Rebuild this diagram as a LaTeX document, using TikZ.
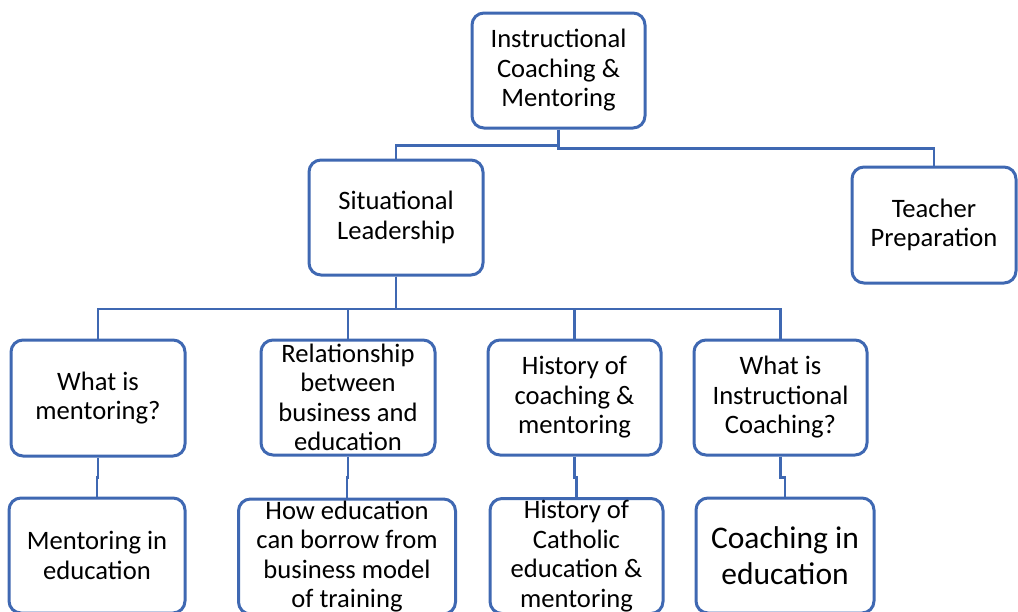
\documentclass[tikz,border=0pt]{standalone}
\usepackage{fontspec}
\setmainfont{Carlito}
\definecolor{bcol}{RGB}{63,104,178}
\begin{document}
\begin{tikzpicture}[x=1pt,y=-1pt,
  box/.style={draw=bcol,line width=3pt,rounded corners=12pt,fill=white,align=center,inner sep=0pt,
    font=\fontsize{26.6}{29.5}\selectfont,minimum height=115pt},
  conn/.style={draw=bcol,line width=2.2pt}]
\useasboundingbox (0,0) rectangle (1018,611);
% level 0
\node[box,minimum width=173pt] (top) at (558.5,70.5) {Instructional\\Coaching \&\\Mentoring};
% level 1
\node[box,minimum width=174pt] (sit) at (396,217.5) {Situational\\Leadership};
\node[box,minimum width=164pt,minimum height=116pt] (tp) at (934,225) {Teacher\\Preparation};
% level 2
\node[box,minimum width=174pt,minimum height=116pt] (m1) at (98,398) {What is\\mentoring?};
\node[box,minimum width=174pt] (r1) at (348,397.5) {Relationship\\between\\business and\\education};
\node[box,minimum width=173pt] (h1) at (574.5,397.5) {History of\\coaching \&\\mentoring};
\node[box,minimum width=173pt] (w1) at (780.5,397.5) {What is\\Instructional\\Coaching?};
% level 3
\node[box,minimum width=176pt] (m2) at (97,555.5) {Mentoring in\\education};
\node[box,minimum width=217pt] (b2) at (347,556.5) {How education\\can borrow from\\business model\\of training};
\node[box,minimum width=173pt] (c2) at (576.5,556) {History of\\Catholic\\education \&\\mentoring};
\node[box,minimum width=178pt,font=\fontsize{31.5}{36}\selectfont] (e2) at (785,555.5) {Coaching in\\education};
% connectors
\draw[conn] (top.south) -- ++(0,16) -| (sit.north);
\draw[conn] (top.south) -- ++(0,19) -| (tp.north);
\foreach \n in {m1,r1,h1,w1}
  \draw[conn] (sit.south) -- ++(0,32.5) -| (\n.north);
\draw[conn] (m1.south) -- ++(0,20) -| (m2.north);
\draw[conn] (r1.south) -- ++(0,21) -| (b2.north);
\draw[conn] (h1.south) -- ++(0,21) -| (c2.north);
\draw[conn] (w1.south) -- ++(0,21) -| (e2.north);
\end{tikzpicture}
\end{document}
